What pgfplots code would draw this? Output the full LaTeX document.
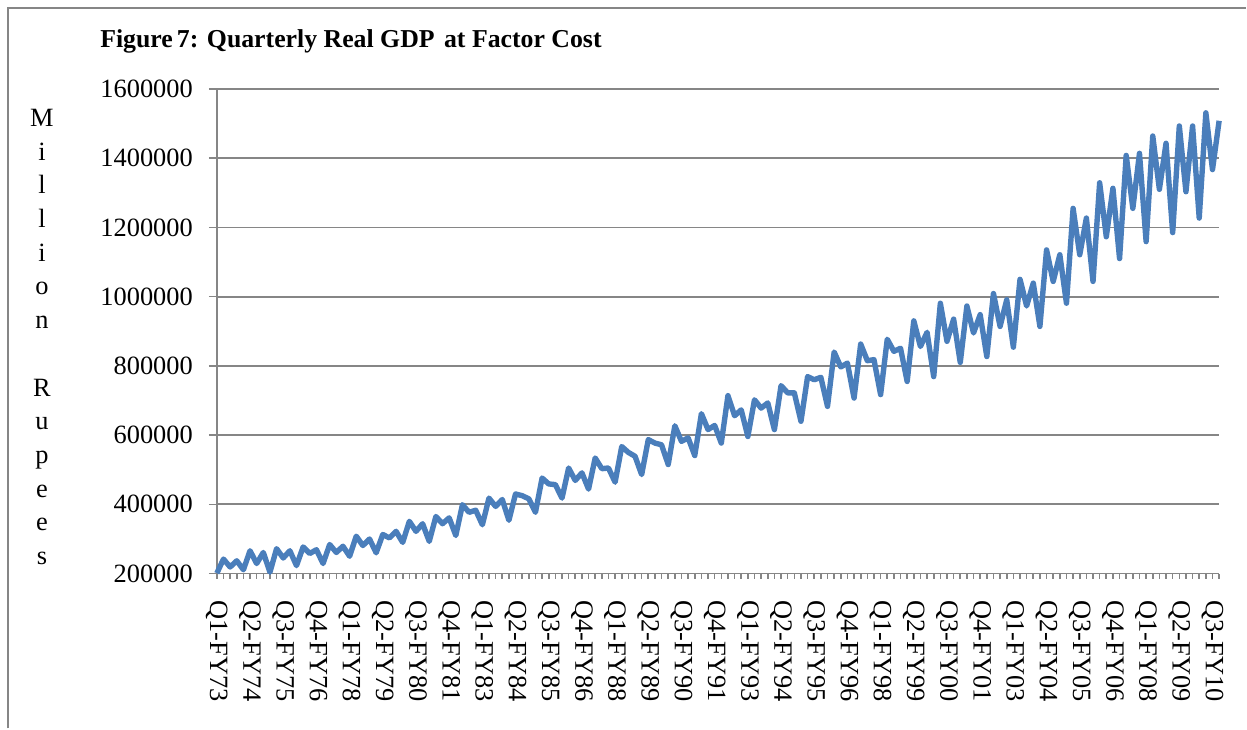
\documentclass[border=0pt]{standalone}
\usepackage{fontspec}
\setmainfont{Liberation Serif}
\usepackage{pgfplots}
\pgfplotsset{compat=1.18}
\definecolor{gdpblue}{RGB}{74,126,187}
\definecolor{gridgray}{RGB}{134,134,134}
\begin{document}
\begin{tikzpicture}
\path (0,0) rectangle (623.5pt,364.5pt);
\draw[gridgray, line width=0.9pt] (4pt,0pt) -- (4pt,360.5pt) -- (623.5pt,360.5pt);
\node[anchor=base west, inner sep=0pt, font=\bfseries\fontsize{12.9}{16}\selectfont] at (50pt,340.5pt) {Figure\kern2pt 7: Quarterly Real GDP\kern1.5pt\ at Factor Cost};
\foreach \t [count=\k from 0] in {M,i,l,l,i,o,n,{},R,u,p,e,e,s}
  \node[anchor=base, inner sep=0pt, font=\fontsize{13.2}{16}\selectfont] at (21pt, {301.15pt - 16.85pt*\k}) {\t};
\begin{axis}[
  at={(108.5pt,77.5pt)}, anchor=south west,
  scale only axis, width=501.5pt, height=242.5pt,
  xmin=0, xmax=151, ymin=200000, ymax=1600000,
  ytick={200000,400000,...,1600000},
  scaled y ticks=false,
  yticklabel style={xshift=-4.5pt, /pgf/number format/.cd, fixed, 1000 sep={}, precision=0, assume math mode=true},
  axis x line=bottom, axis y line=left,
  axis line style={draw=gridgray, line width=0.9pt, -},
  ymajorgrids, grid style={gridgray, line width=0.9pt},
  xtick={0,5,...,150},
  minor xtick={0,...,151},
  xticklabels={Q1-FY73,Q2-FY74,Q3-FY75,Q4-FY76,Q1-FY78,Q2-FY79,Q3-FY80,Q4-FY81,Q1-FY83,Q2-FY84,Q3-FY85,Q4-FY86,Q1-FY88,Q2-FY89,Q3-FY90,Q4-FY91,Q1-FY93,Q2-FY94,Q3-FY95,Q4-FY96,Q1-FY98,Q2-FY99,Q3-FY00,Q4-FY01,Q1-FY03,Q2-FY04,Q3-FY05,Q4-FY06,Q1-FY08,Q2-FY09,Q3-FY10},
  tick align=outside,
  tick style={gridgray, line width=0.8pt},
  major tick length=4pt, minor tick length=2.5pt,
  xtick style={/pgfplots/major tick length=2.5pt},
  ticklabel style={font=\fontsize{13.2}{16}\selectfont},
  xticklabel style={rotate=-90, anchor=west, xshift=6pt},
  clip=false,
]
\addplot[gdpblue, line width=2.7pt, line join=round, mark=none] table {
x y
0 201000
1 242000
2 219000
3 237000
4 211000
5 266000
6 229000
7 261000
8 204000
9 272000
10 245000
11 266000
12 223000
13 277000
14 258000
15 269000
16 229000
17 284000
18 261000
19 279000
20 250000
21 308000
22 281000
23 300000
24 260000
25 313000
26 303000
27 322000
28 290000
29 351000
30 322000
31 344000
32 293000
33 365000
34 344000
35 361000
36 310000
37 399000
38 377000
39 383000
40 341000
41 418000
42 394000
43 414000
44 354000
45 430000
46 425000
47 416000
48 377000
49 476000
50 459000
51 457000
52 418000
53 505000
54 469000
55 491000
56 444000
57 534000
58 503000
59 505000
60 464000
61 567000
62 550000
63 539000
64 486000
65 587000
66 577000
67 572000
68 515000
69 627000
70 582000
71 592000
72 541000
73 662000
74 616000
75 628000
76 577000
77 714000
78 656000
79 673000
80 596000
81 702000
82 678000
83 693000
84 616000
85 743000
86 722000
87 722000
88 640000
89 769000
90 760000
91 767000
92 683000
93 840000
94 797000
95 808000
96 707000
97 863000
98 815000
99 818000
100 717000
101 877000
102 842000
103 851000
104 755000
105 930000
106 856000
107 897000
108 769000
109 981000
110 871000
111 935000
112 810000
113 973000
114 895000
115 948000
116 827000
117 1009000
118 914000
119 991000
120 854000
121 1050000
122 973000
123 1039000
124 914000
125 1135000
126 1044000
127 1121000
128 981000
129 1255000
130 1121000
131 1227000
132 1044000
133 1329000
134 1173000
135 1313000
136 1110000
137 1408000
138 1255000
139 1414000
140 1159000
141 1464000
142 1310000
143 1443000
144 1185000
145 1493000
146 1303000
147 1493000
148 1227000
149 1531000
150 1367000
151 1508000
};
\end{axis}
\end{tikzpicture}
\end{document}
